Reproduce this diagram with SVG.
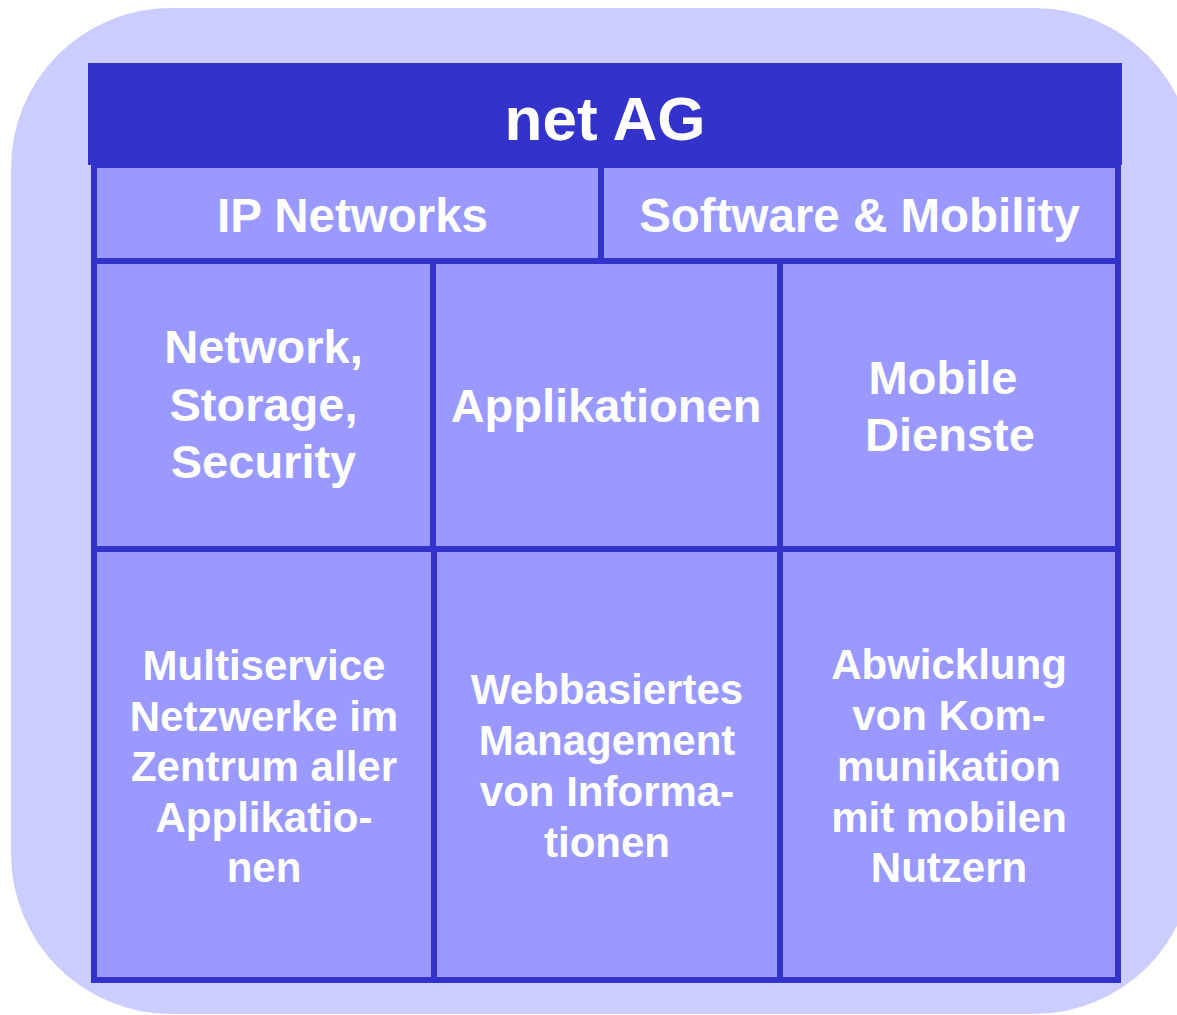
<svg xmlns="http://www.w3.org/2000/svg" width="1177" height="1015" viewBox="0 0 1177 1015">
  <style>
    .cell { fill: #9999ff; stroke: #3333cc; stroke-width: 6; }
    .t { font-family: "Liberation Sans", Arial, sans-serif; font-weight: bold; fill: #ffffff; text-anchor: middle; }
    .h1 { font-size: 62px; }
    .h2 { font-size: 47.5px; }
    .h3 { font-size: 47px; }
    .h4 { font-size: 42px; }
  </style>
  <rect id="background" x="11" y="8" width="1183" height="1006" rx="160" ry="160" fill="#ccccff"/>
  <g id="connectors"></g>
  <g id="title">
    <rect x="88" y="63" width="1034" height="102" fill="#3333cc"/>
    <text class="t h1" x="605" y="140">net AG</text>
  </g>
  <g id="ip-networks">
    <rect class="cell" x="94" y="165" width="507" height="96"/>
    <text class="t h2" x="352.5" y="232">IP Networks</text>
  </g>
  <g id="software-mobility">
    <rect class="cell" x="601" y="165" width="517" height="96"/>
    <text class="t h2" x="859.5" y="232">Software &amp; Mobility</text>
  </g>
  <g id="network-storage-security">
    <rect class="cell" x="94" y="261" width="339" height="288"/>
    <text class="t h3" x="263.5" y="363">Network,</text>
    <text class="t h3" x="263.5" y="420.5">Storage,</text>
    <text class="t h3" x="263.5" y="478">Security</text>
  </g>
  <g id="applikationen">
    <rect class="cell" x="433" y="261" width="347" height="288"/>
    <text class="t h3" x="606" y="422">Applikationen</text>
  </g>
  <g id="mobile-dienste">
    <rect class="cell" x="780" y="261" width="338" height="288"/>
    <text class="t h3" x="943" y="394">Mobile</text>
    <text class="t h3" x="950" y="451">Dienste</text>
  </g>
  <g id="multiservice">
    <rect class="cell" x="94" y="549" width="340" height="431"/>
    <text class="t h4" x="264" y="680">Multiservice</text>
    <text class="t h4" x="264" y="730.5">Netzwerke im</text>
    <text class="t h4" x="264" y="781">Zentrum aller</text>
    <text class="t h4" x="264" y="831.5">Applikatio-</text>
    <text class="t h4" x="264" y="882">nen</text>
  </g>
  <g id="webbasiertes">
    <rect class="cell" x="434" y="549" width="346" height="431"/>
    <text class="t h4" x="607" y="704">Webbasiertes</text>
    <text class="t h4" x="607" y="755">Management</text>
    <text class="t h4" x="607" y="806">von Informa-</text>
    <text class="t h4" x="607" y="857">tionen</text>
  </g>
  <g id="abwicklung">
    <rect class="cell" x="780" y="549" width="338" height="431"/>
    <text class="t h4" x="949" y="679">Abwicklung</text>
    <text class="t h4" x="949" y="730">von Kom-</text>
    <text class="t h4" x="949" y="780.5">munikation</text>
    <text class="t h4" x="949" y="831.5">mit mobilen</text>
    <text class="t h4" x="949" y="882">Nutzern</text>
  </g>
</svg>
